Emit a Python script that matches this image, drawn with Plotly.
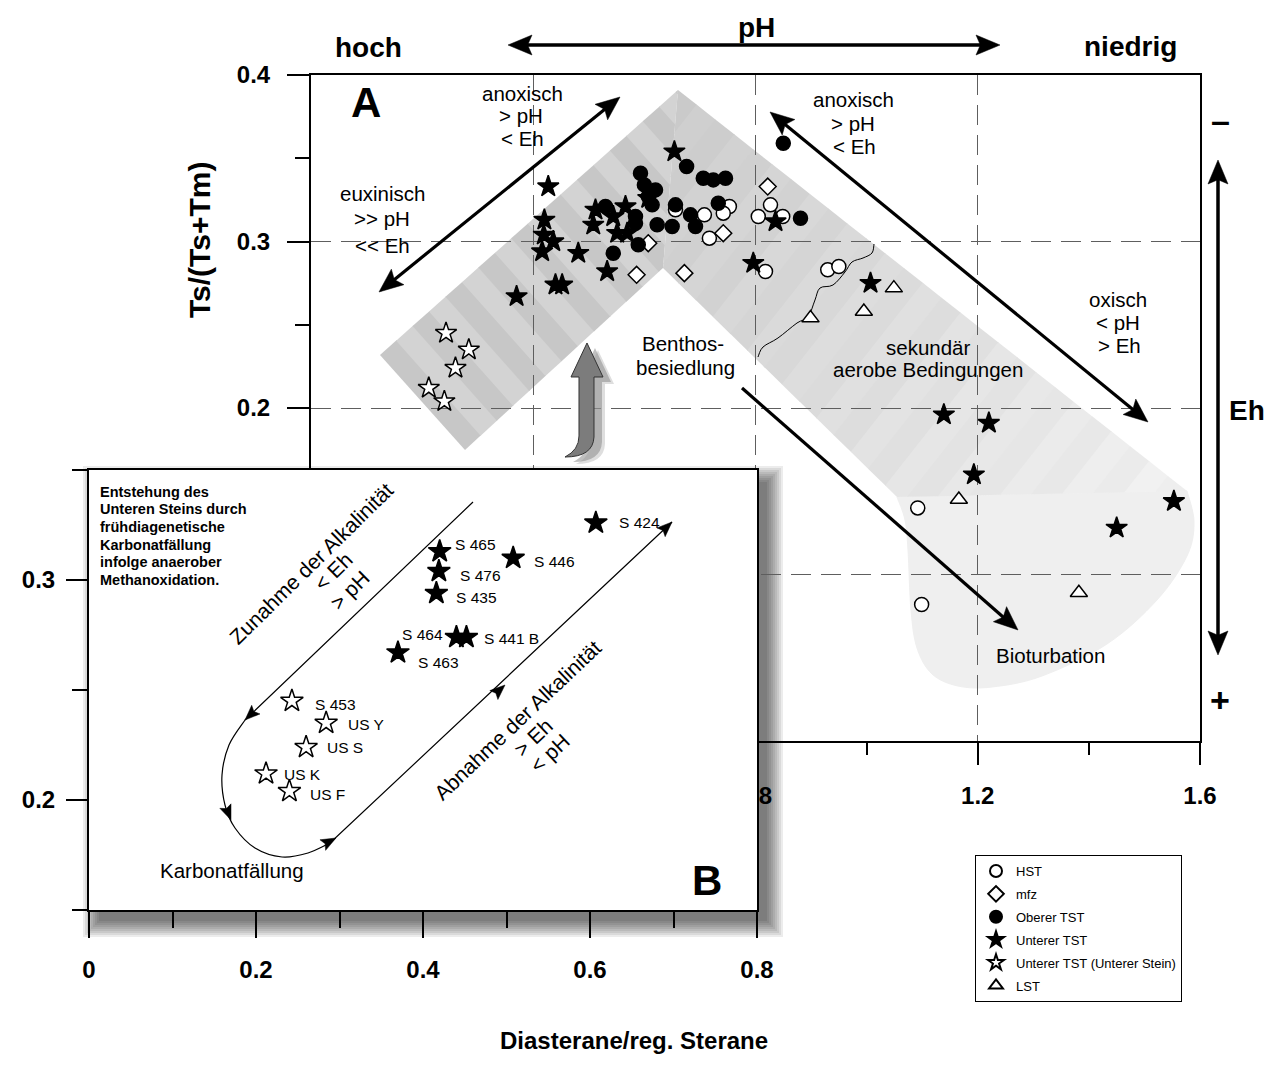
import math
import plotly.graph_objects as go

W, H = 1268, 1080
FONT = "Liberation Sans, Arial, Helvetica, sans-serif"

# ---------------- data ----------------
# HST
hst_x = [0.753, 0.742, 0.708, 0.656, 0.717, 0.818, 0.827, 0.805, 0.849, 0.930, 0.950, 1.092, 1.099]
hst_y = [0.321, 0.317, 0.316, 0.319, 0.302, 0.282, 0.322, 0.315, 0.315, 0.283, 0.285, 0.140, 0.082]

# mfz
mfz_x = [0.607, 0.742, 0.822, 0.586, 0.672]
mfz_y = [0.299, 0.305, 0.333, 0.280, 0.281]

# Oberer TST
otst_x = [0.676, 0.593, 0.706, 0.724, 0.746, 0.600, 0.620, 0.607, 0.614, 0.530, 0.584,
          0.656, 0.584, 0.623, 0.650, 0.683, 0.692, 0.733, 0.589, 0.544, 0.850, 0.881]
otst_y = [0.345, 0.341, 0.338, 0.337, 0.338, 0.334, 0.331, 0.327, 0.322, 0.321, 0.315,
          0.322, 0.311, 0.310, 0.309, 0.316, 0.309, 0.323, 0.298, 0.293, 0.359, 0.314]

# Unterer TST, named samples (also shown in panel B)
utst_names = ["S 465", "S 476", "S 435", "S 446", "S 424", "S 464", "S 441 B", "S 463"]
utst_sx = [0.420, 0.419, 0.416, 0.508, 0.607, 0.440, 0.452, 0.370]
utst_sy = [0.313, 0.304, 0.294, 0.310, 0.326, 0.274, 0.274, 0.267]
# Unterer TST, further samples
utst_x = [0.654, 0.427, 0.436, 0.481, 0.512, 0.544, 0.566, 0.551, 0.569, 0.533,
          0.836, 0.796, 1.007, 1.139, 1.220, 1.193, 1.450, 1.553]
utst_y = [0.354, 0.333, 0.300, 0.293, 0.319, 0.315, 0.321, 0.305, 0.305, 0.282,
          0.312, 0.287, 0.275, 0.196, 0.191, 0.160, 0.128, 0.144]

# Unterer TST (Unterer Stein)
us_names = ["S 453", "US Y", "US S", "US K", "US F"]
us_x = [0.243, 0.284, 0.260, 0.212, 0.240]
us_y = [0.245, 0.235, 0.224, 0.212, 0.204]

# LST
lst_x = [0.899, 0.995, 1.049, 1.166, 1.382]
lst_y = [0.254, 0.258, 0.272, 0.145, 0.089]

# axis ticks of panel A (the lower-left labels sit under panel B)
a_xticks = [0.0, 0.4, 0.8, 1.2, 1.6]
a_xlabels = ["", "", "0.8", "1.2", "1.6"]
a_yticks = [0.0, 0.1, 0.2, 0.3, 0.4]
a_ylabels = ["", "", "0.2", "0.3", "0.4"]

# ---------------- helpers (figure pixels -> paper) ----------------
def pp(x, y):
    return x / W, 1 - y / H


def poly(pts, closed=True):
    s = "M " + " L ".join("%.5f,%.5f" % pp(x, y) for x, y in pts)
    return s + (" Z" if closed else "")


def smooth(pts, closed=False, start=True):
    """Catmull-Rom spline through pts as an SVG path in paper units."""
    n = len(pts)
    segs = []
    if start:
        segs.append("M %.5f,%.5f" % pp(*pts[0]))
    rng = range(n) if closed else range(n - 1)
    for i in rng:
        p0 = pts[(i - 1) % n] if (closed or i > 0) else pts[i]
        p1 = pts[i]
        p2 = pts[(i + 1) % n]
        p3 = pts[(i + 2) % n] if (closed or i + 2 < n) else pts[(i + 1) % n]
        c1 = (p1[0] + (p2[0] - p0[0]) / 6, p1[1] + (p2[1] - p0[1]) / 6)
        c2 = (p2[0] - (p3[0] - p1[0]) / 6, p2[1] - (p3[1] - p1[1]) / 6)
        segs.append("C %.5f,%.5f %.5f,%.5f %.5f,%.5f" % (*pp(*c1), *pp(*c2), *pp(*p2)))
    return " ".join(segs)


def clip(polygon, n, c):
    """Keep the part of a convex polygon where dot(p, n) >= c."""
    out = []
    for i in range(len(polygon)):
        cur, prev = polygon[i], polygon[i - 1]
        dc = cur[0] * n[0] + cur[1] * n[1] - c
        dp = prev[0] * n[0] + prev[1] * n[1] - c
        if (dc >= 0) != (dp >= 0):
            t = dp / (dp - dc)
            out.append((prev[0] + t * (cur[0] - prev[0]), prev[1] + t * (cur[1] - prev[1])))
        if dc >= 0:
            out.append(cur)
    return out


shapes = []
annotations = []


def striped(polygon, p_from, p_to, width, colour_of):
    ux, uy = p_to[0] - p_from[0], p_to[1] - p_from[1]
    n = math.hypot(ux, uy)
    u = (ux / n, uy / n)
    proj = [p[0] * u[0] + p[1] * u[1] for p in polygon]
    lo, hi = min(proj), max(proj)
    count = int(math.ceil((hi - lo) / width))
    k = 0
    s = lo
    while s < hi:
        part = clip(clip(polygon, u, s - 0.4), (-u[0], -u[1]), -(s + width + 0.4))
        if len(part) >= 3:
            col = colour_of(k, k / max(count - 1, 1))
            shapes.append(dict(type="path", xref="paper", yref="paper", path=poly(part),
                               layer="below", fillcolor=col, line=dict(width=0)))
        s += width
        k += 1


def add_head(tip, tail, length, half, layer="above"):
    dx, dy = tip[0] - tail[0], tip[1] - tail[1]
    n = math.hypot(dx, dy)
    ux, uy = dx / n, dy / n
    bx, by = tip[0] - ux * length, tip[1] - uy * length
    nx, ny = -uy, ux
    pts = [tip, (bx + nx * half, by + ny * half), (bx + ux * length * 0.18, by + uy * length * 0.18),
           (bx - nx * half, by - ny * half)]
    shapes.append(dict(type="path", xref="paper", yref="paper", path=poly(pts), layer=layer,
                       fillcolor="black", line=dict(color="black", width=0.5)))
    return (tip[0] - ux * length * 0.7, tip[1] - uy * length * 0.7)


def add_arrow(p0, p1, width=3.2, length=24, half=10, double=False):
    a = add_head(p1, p0, length, half)
    b = add_head(p0, p1, length, half) if double else p0
    shapes.append(dict(type="line", xref="paper", yref="paper", layer="above",
                       x0=pp(*b)[0], y0=pp(*b)[1], x1=pp(*a)[0], y1=pp(*a)[1],
                       line=dict(color="black", width=width)))


def text(x, y, s, size=20.5, bold=False, angle=0, xanchor="center"):
    px, py = pp(x, y)
    annotations.append(dict(x=px, y=py, xref="paper", yref="paper", text=s, showarrow=False,
                            xanchor=xanchor, yanchor="middle", textangle=angle,
                            font=dict(family=FONT, size=size, color="black",
                                      weight="bold" if bold else "normal")))


def grey(g):
    g = int(round(min(g, 255)))
    return "rgb(%d,%d,%d)" % (g, g, g)


# ---------------- panel A: shaded band ----------------
P0, A_, Q0, N_ = (380, 355), (678, 90), (465, 450), (663, 268)
R1, I1 = (1187, 491), (897, 497)

blob = [I1, (905, 520), (908, 550), (911, 610), (917, 648), (932, 674), (958, 686), (992, 687),
        (1042, 676), (1107, 644), (1157, 600), (1187, 556), (1194, 522), R1]
shapes.append(dict(type="path", xref="paper", yref="paper", layer="below",
                   path=smooth(blob) + " Z", fillcolor="#efefef",
                   line=dict(width=1, color="#efefef")))

striped([P0, A_, N_, Q0], P0, A_, 22,
        lambda k, t: "#c7c7c7" if k % 2 == 0 else "#d3d3d3")
striped([A_, R1, I1, N_], A_, R1, 24,
        lambda k, t: grey(202 + 36 * t + (4 if k % 2 else 0)))

# boundary between primary and secondary conditions
wave = [(758, 357), (763, 347), (778, 338), (797, 323), (808, 317), (815, 300), (820, 288),
        (833, 285), (845, 272), (852, 262), (863, 258), (872, 253), (874, 244)]
shapes.append(dict(type="path", xref="paper", yref="paper", layer="below",
                   path=smooth(wave), line=dict(color="black", width=1)))


# curved grey arrow (settlement by benthos)
def j_arrow(dx, dy):
    tip = (587 + dx, 343 + dy)
    pts = "M %.5f,%.5f" % pp(*tip)
    for p in [(603, 377), (594, 377), (594, 437)]:
        pts += " L %.5f,%.5f" % pp(p[0] + dx, p[1] + dy)
    pts += " Q %.5f,%.5f %.5f,%.5f" % (*pp(593 + dx, 457 + dy), *pp(565 + dx, 457 + dy))
    pts += " Q %.5f,%.5f %.5f,%.5f" % (*pp(579 + dx, 450 + dy), *pp(579 + dx, 436 + dy))
    for p in [(579, 377), (571, 377)]:
        pts += " L %.5f,%.5f" % pp(p[0] + dx, p[1] + dy)
    return pts + " Z"


shapes.append(dict(type="path", xref="paper", yref="paper", layer="above", path=j_arrow(11, 7),
                   fillcolor="rgba(160,160,160,0.35)", line=dict(width=0)))
shapes.append(dict(type="path", xref="paper", yref="paper", layer="above", path=j_arrow(8, 5),
                   fillcolor="rgba(140,140,140,0.55)", line=dict(width=0)))
shapes.append(dict(type="path", xref="paper", yref="paper", layer="above", path=j_arrow(0, 0),
                   fillcolor="#7c7c7c", line=dict(color="#333333", width=1)))

# drop shadow of panel B
for k in range(9):
    r = 16 - 2 * k
    shapes.append(dict(type="rect", xref="paper", yref="paper", layer="below",
                       x0=pp(99 - r, 0)[0], x1=pp(767 + r, 0)[0],
                       y0=pp(0, 921 + r)[1], y1=pp(0, 482 - r)[1],
                       fillcolor="rgba(0,0,0,0.075)", line=dict(width=0)))

# ---------------- arrows ----------------
add_arrow((508, 45), (1000, 45), width=3.5, length=24, half=10, double=True)      # pH
add_arrow((1218, 160), (1218, 655), width=3.5, length=24, half=10, double=True)   # Eh
add_arrow((379, 292), (620, 97), double=True)
add_arrow((770, 112), (1148, 422), double=True)
add_arrow((742, 388), (1018, 630))

# ---------------- panel A: texts ----------------
text(368, 48, "hoch", 28, True)
text(756, 28, "pH", 28, True)
text(1130, 46, "niedrig", 28, True)
text(1247, 410, "Eh", 28, True)
text(1220, 120, "–", 34, True)
text(1220, 700, "+", 34, True)
text(366, 103, "A", 42, True)
text(199, 240, "Ts/(Ts+Tm)", 30, True, angle=-90)
text(634, 1040, "Diasterane/reg. Sterane", 24, True)

for (x, y, s) in [(522, 93, "anoxisch"), (521, 116, "&gt; pH"), (522, 138, "&lt; Eh"),
                  (853, 100, "anoxisch"), (853, 123, "&gt; pH"), (854, 146, "&lt; Eh"),
                  (382, 193, "euxinisch"), (382, 219, "&gt;&gt; pH"), (382, 245, "&lt;&lt; Eh"),
                  (1118, 299, "oxisch"), (1118, 322, "&lt; pH"), (1119, 345, "&gt; Eh"),
                  (683, 343, "Benthos-"), (685, 367, "besiedlung"),
                  (928, 347, "sekundär"), (928, 370, "aerobe Bedingungen"),
                  (1050, 655, "Bioturbation")]:
    text(x, y, s)

# ---------------- panel B: texts and path ----------------
text(707, 880, "B", 42, True)
for k, s in enumerate(["Entstehung des", "Unteren Steins durch", "frühdiagenetische",
                       "Karbonatfällung", "infolge anaerober", "Methanoxidation."]):
    text(98, 492 + 17.5 * k, s, 14.5, True, xanchor="left")
text(232, 870, "Karbonatfällung", 20.5)
text(311, 563, "Zunahme der Alkalinität", 21, angle=-44.5)
text(333, 571, "&lt; Eh", 21, angle=-44.5)
text(349, 590, "&gt; pH", 21, angle=-44.5)
text(517, 720, "Abnahme der Alkalinität", 21, angle=-43.5)
text(533, 737, "&gt; Eh", 21, angle=-43.5)
text(549, 753, "&lt; pH", 21, angle=-43.5)

loop_curve = [(245, 720), (229, 745), (222, 775), (225, 805), (235, 828), (255, 848), (282, 857),
              (308, 853), (330, 843)]
loop = "M %.5f,%.5f L %.5f,%.5f " % (*pp(473, 502), *pp(245, 720))
loop += smooth(loop_curve, start=False)
loop += " L %.5f,%.5f" % pp(672, 522)
shapes.append(dict(type="path", xref="paper", yref="paper", layer="above", path=loop,
                   line=dict(color="black", width=1.2)))
for tip, tail in [((245, 720), (473, 502)), ((231, 820), (225, 805)), ((336, 838), (308, 853)),
                  ((505, 685), (330, 843)), ((672, 522), (330, 843))]:
    add_head(tip, tail, 15, 6)

# sample labels in panel B
label_style = {"S 465": (13, 7, "left"), "S 476": (19, -4, "left"), "S 435": (18, -4, "left"),
               "S 446": (19, -3, "left"), "S 424": (21, 0, "left"), "S 464": (-11, 3, "right"),
               "S 441 B": (16, -1, "left"), "S 463": (18, -10, "left"), "S 453": (21, -3, "left"),
               "US Y": (20, -1, "left"), "US S": (19, 0, "left"), "US K": (16, -1, "left"),
               "US F": (19, -3, "left")}
for names, xs, ys in [(utst_names, utst_sx, utst_sy), (us_names, us_x, us_y)]:
    for nm, x, y in zip(names, xs, ys):
        dx, dy, anchor = label_style[nm]
        annotations.append(dict(x=x, y=y, xref="x2", yref="y2", text=nm, showarrow=False,
                                xanchor=anchor, yanchor="middle", xshift=dx, yshift=dy,
                                font=dict(family=FONT, size=15.5, color="black")))

# ---------------- traces ----------------
fig = go.Figure()


def markers(name, xs, ys, symbol, fill, size, axes=("x", "y"), legend=True):
    fig.add_trace(go.Scatter(
        x=xs, y=ys, mode="markers", name=name, legendgroup=name, showlegend=legend,
        xaxis=axes[0], yaxis=axes[1], hoverinfo="skip",
        marker=dict(symbol=symbol, size=size, color=fill, line=dict(color="black", width=1.5))))


markers("HST", hst_x, hst_y, "circle", "white", 14)
markers("mfz", mfz_x, mfz_y, "diamond", "white", 13)
markers("Oberer TST", otst_x, otst_y, "circle", "black", 14)
markers("Unterer TST", utst_sx + utst_x, utst_sy + utst_y, "star", "black", 16)
markers("Unterer TST (Unterer Stein)", us_x, us_y, "star", "white", 16)
markers("LST", lst_x, lst_y, "triangle-up", "white", 15)

markers("Unterer TST", utst_sx, utst_sy, "star", "black", 17, ("x2", "y2"), False)
markers("Unterer TST (Unterer Stein)", us_x, us_y, "star", "white", 17, ("x2", "y2"), False)

tickfont = dict(family=FONT, size=24, color="black", weight="bold")
common = dict(showline=True, linecolor="black", linewidth=2, mirror=True, ticks="outside",
              tickcolor="black", tickwidth=2, zeroline=False, automargin=False, tickfont=tickfont)

fig.update_layout(
    width=W, height=H, margin=dict(l=0, r=0, t=0, b=0),
    paper_bgcolor="white", plot_bgcolor="white",
    font=dict(family=FONT, color="black"),
    xaxis=dict(domain=[311 / W, 1200 / W], range=[0, 1.6], tickmode="array",
               tickvals=a_xticks, ticktext=a_xlabels, ticklen=22,
               showgrid=True, gridcolor="#5e5e5e", gridwidth=1, griddash="20px,10px",
               minor=dict(dtick=0.2, tick0=0, ticks="outside", ticklen=12, tickwidth=2,
                          tickcolor="black", showgrid=False),
               ticklabelstandoff=10, **common),
    yaxis=dict(domain=[1 - 741 / H, 1 - 75 / H], range=[0, 0.4], tickmode="array",
               tickvals=a_yticks, ticktext=a_ylabels, ticklen=22,
               showgrid=True, gridcolor="#5e5e5e", gridwidth=1, griddash="20px,10px",
               minor=dict(dtick=0.05, tick0=0, ticks="outside", ticklen=14, tickwidth=2,
                          tickcolor="black", showgrid=False),
               ticklabelstandoff=12, **common),
    xaxis2=dict(domain=[89 / W, 757 / W], range=[0, 0.8], anchor="y2", tick0=0, dtick=0.2,
                ticklen=26, showgrid=False,
                minor=dict(dtick=0.1, tick0=0, ticks="outside", ticklen=16, tickwidth=2,
                           tickcolor="black", showgrid=False),
                ticklabelstandoff=11, **common),
    yaxis2=dict(domain=[1 - 910 / H, 1 - 470 / H], range=[0.15, 0.35], anchor="x2", tick0=0.1,
                dtick=0.1, ticklen=21, showgrid=False,
                minor=dict(dtick=0.05, tick0=0.15, ticks="outside", ticklen=15, tickwidth=2,
                           tickcolor="black", showgrid=False),
                ticklabelstandoff=6, **common),
    legend=dict(x=975 / W, y=1 - 855 / H, xanchor="left", yanchor="top", bgcolor="white",
                bordercolor="black", borderwidth=1, font=dict(family=FONT, size=13, color="black"),
                itemsizing="constant", traceorder="grouped", tracegroupgap=3),
    shapes=shapes, annotations=annotations,
)

fig.write_html("out.html")
